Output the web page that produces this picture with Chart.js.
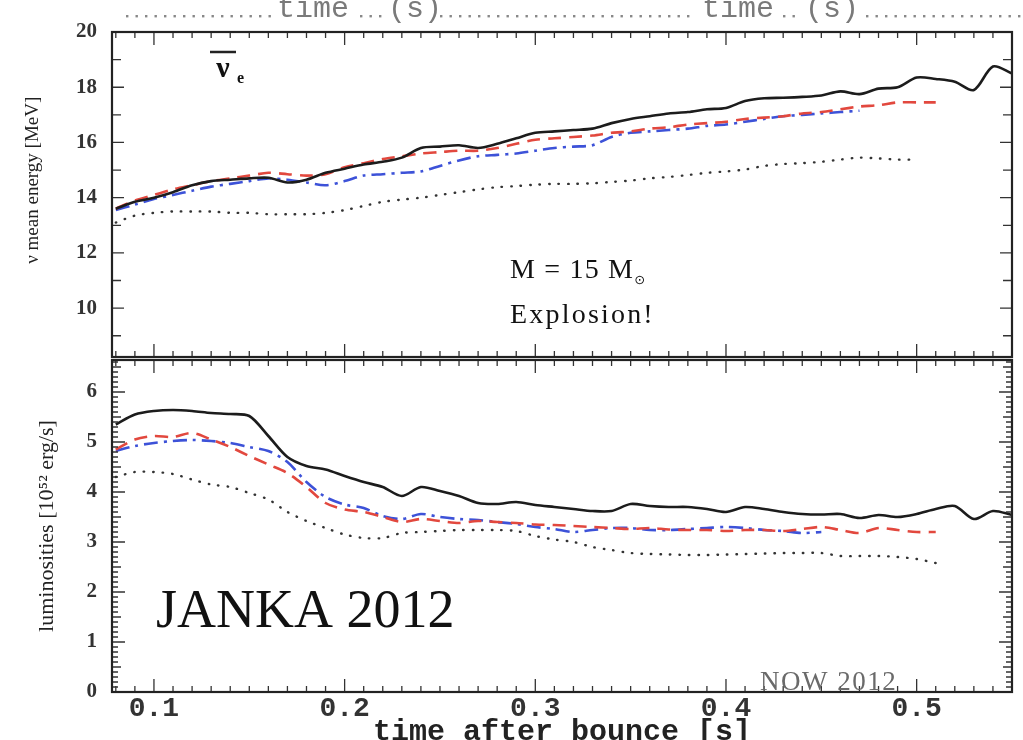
<!DOCTYPE html>
<html>
<head>
<meta charset="utf-8">
<script src="https://cdn.jsdelivr.net/npm/chart.js@4.4.1/dist/chart.umd.min.js"></script>
<style>
  body { margin: 0; background: #fff; }
  #wrap { position: relative; width: 1023px; height: 740px; overflow: hidden; background: #fff; }
  .panel { position: absolute; left: 0; width: 1023px; }
  #top { top: 0; height: 360px; }
  #bottom { top: 355px; height: 395px; }
</style>
</head>
<body>
<div id="wrap">
  <div class="panel" id="top"><canvas id="energyChart"></canvas></div>
  <div class="panel" id="bottom"><canvas id="lumChart"></canvas></div>
</div>
<script>
// time after bounce [s]
const time = [0.08, 0.09, 0.10, 0.11, 0.12, 0.13, 0.14, 0.15, 0.16, 0.17, 0.18, 0.19,
  0.20, 0.21, 0.22, 0.23, 0.24, 0.25, 0.26, 0.27, 0.28, 0.29, 0.30, 0.31, 0.32, 0.33,
  0.34, 0.35, 0.36, 0.37, 0.38, 0.39, 0.40, 0.41, 0.42, 0.43, 0.44, 0.45, 0.46, 0.47,
  0.48, 0.49, 0.50, 0.51, 0.52, 0.53, 0.54, 0.55]

const xTicks = [0.1, 0.2, 0.3, 0.4, 0.5]
const energyTicks = [10, 12, 14, 16, 18, 20]
const lumTicks = [0, 1, 2, 3, 4, 5, 6]

// mean energy [MeV]
const eSolid = [13.6, 13.85, 14.0, 14.2, 14.45, 14.6, 14.65, 14.7, 14.72, 14.55, 14.65, 14.9,
  15.05, 15.2, 15.3, 15.45, 15.8, 15.85, 15.9, 15.8, 15.95, 16.15, 16.35, 16.4, 16.45, 16.5,
  16.7, 16.85, 16.95, 17.05, 17.1, 17.2, 17.25, 17.5, 17.6, 17.62, 17.65, 17.7, 17.85, 17.75,
  17.95, 18.0, 18.35, 18.3, 18.2, 17.9, 18.75, 18.5]
const eDashed = [13.6, 13.9, 14.1, 14.3, 14.45, 14.6, 14.7, 14.8, 14.9, 14.85, 14.8, 14.85,
  15.1, 15.25, 15.4, 15.5, 15.6, 15.65, 15.7, 15.7, 15.8, 15.95, 16.1, 16.15, 16.2, 16.25,
  16.35, 16.4, 16.5, 16.55, 16.65, 16.7, 16.75, 16.85, 16.9, 16.95, 17.05, 17.1, 17.2, 17.3,
  17.35, 17.45, 17.45, 17.45, null, null, null, null]
const eDashDot = [13.55, 13.75, 13.95, 14.1, 14.25, 14.4, 14.5, 14.6, 14.7, 14.65, 14.55, 14.45,
  14.6, 14.8, 14.85, 14.9, 14.95, 15.15, 15.35, 15.5, 15.55, 15.6, 15.7, 15.8, 15.85, 15.9,
  16.2, 16.35, 16.4, 16.45, 16.5, 16.6, 16.65, 16.75, 16.85, 16.95, 17.0, 17.05, 17.1, 17.15,
  null, null, null, null, null, null, null, null]
const eDotted = [13.1, 13.35, 13.45, 13.5, 13.5, 13.5, 13.45, 13.45, 13.4, 13.4, 13.4, 13.45,
  13.55, 13.7, 13.85, 13.93, 14.0, 14.1, 14.2, 14.3, 14.38, 14.42, 14.47, 14.5, 14.5, 14.52,
  14.57, 14.62, 14.7, 14.75, 14.82, 14.9, 14.95, 15.02, 15.15, 15.22, 15.25, 15.3, 15.38, 15.45,
  15.42, 15.38, 15.38, null, null, null, null, null]

// luminosities [10^52 erg/s]
const lSolid = [5.35, 5.55, 5.62, 5.64, 5.62, 5.58, 5.56, 5.52, 5.12, 4.7, 4.52, 4.45,
  4.32, 4.2, 4.1, 3.92, 4.1, 4.02, 3.92, 3.78, 3.76, 3.8, 3.74, 3.7, 3.66, 3.62,
  3.62, 3.76, 3.72, 3.7, 3.7, 3.66, 3.6, 3.7, 3.66, 3.6, 3.56, 3.55, 3.56, 3.48,
  3.54, 3.5, 3.56, 3.66, 3.72, 3.46, 3.62, 3.54]
const lDashed = [4.85, 5.05, 5.12, 5.1, 5.18, 5.05, 4.9, 4.72, 4.55, 4.38, 4.1, 3.78,
  3.65, 3.6, 3.5, 3.4, 3.46, 3.42, 3.38, 3.42, 3.4, 3.38, 3.35, 3.34, 3.32, 3.3,
  3.28, 3.26, 3.28, 3.25, 3.24, 3.24, 3.22, 3.24, 3.24, 3.22, 3.26, 3.3, 3.24, 3.18,
  3.28, 3.24, 3.2, 3.2, null, null, null, null]
const lDashDot = [4.82, 4.92, 4.98, 5.02, 5.04, 5.02, 4.98, 4.9, 4.82, 4.6, 4.2, 3.9,
  3.75, 3.68, 3.52, 3.46, 3.56, 3.5, 3.46, 3.44, 3.4, 3.36, 3.3, 3.26, 3.2, 3.24,
  3.28, 3.28, 3.24, 3.24, 3.26, 3.28, 3.3, 3.28, 3.24, 3.22, 3.18, 3.2, null, null,
  null, null, null, null, null, null, null, null]
const lDotted = [4.3, 4.4, 4.4, 4.36, 4.25, 4.15, 4.1, 3.98, 3.85, 3.6, 3.42, 3.28,
  3.15, 3.08, 3.08, 3.18, 3.2, 3.22, 3.24, 3.24, 3.24, 3.22, 3.12, 3.05, 3.0, 2.9,
  2.84, 2.78, 2.76, 2.75, 2.74, 2.74, 2.75, 2.76, 2.77, 2.78, 2.78, 2.78, 2.72, 2.72,
  2.72, 2.7, 2.66, 2.58, null, null, null, null]

const styles = {
  solid: { borderColor: '#1c1c1c', borderWidth: 2.6, order: 1 },
  dashed: { borderColor: '#e2483e', borderWidth: 2.6, borderDash: [13, 8], order: 2 },
  dashDot: { borderColor: '#3d52d8', borderWidth: 2.6, borderDash: [14, 6, 3, 6], order: 3 },
  dotted: { borderColor: '#333', borderWidth: 2.4, borderDash: [0.5, 9], borderCapStyle: 'round', order: 4 }
}

function series(values, style) {
  return Object.assign({ data: values, pointRadius: 0, tension: 0.3, fill: false, spanGaps: false }, styles[style])
}

function tickValues(min, max, step) {
  const out = []
  for (let k = Math.ceil(min / step - 1e-6); k * step <= max + 1e-9; k++) out.push(+(k * step).toFixed(4))
  return out
}
const isMultiple = (v, step) => Math.abs(v / step - Math.round(v / step)) < 1e-6

// y axis of fixed width, no extra room for half labels
const fixWidth = s => {
  s.width = 112
  s.paddingTop = 0
  s.paddingBottom = 0
}

// box with inward tick marks, like the original plot frame
const framePlugin = {
  id: 'frame',
  afterDatasetsDraw(chart, args, o) {
    const { ctx, chartArea: a, scales: { x, y } } = chart
    ctx.save()
    ctx.strokeStyle = '#333'
    ctx.lineWidth = 1.3
    ctx.beginPath()
    tickValues(x.min, x.max, 0.01).forEach(v => {
      const px = x.getPixelForValue(v)
      const len = isMultiple(v, 0.1) ? 13 : 6
      ctx.moveTo(px, a.top); ctx.lineTo(px, a.top + len)
      ctx.moveTo(px, a.bottom); ctx.lineTo(px, a.bottom - len)
    })
    tickValues(y.min, y.max, o.yMinor).forEach(v => {
      const py = y.getPixelForValue(v)
      let len = o.minorLen
      if (isMultiple(v, o.yMajor)) len = o.majorLen
      else if (o.yMid && isMultiple(v, o.yMid)) len = o.midLen
      ctx.moveTo(a.left, py); ctx.lineTo(a.left + len, py)
      ctx.moveTo(a.right, py); ctx.lineTo(a.right - len, py)
    })
    ctx.stroke()
    ctx.lineWidth = 2.2
    ctx.strokeStyle = '#222'
    ctx.strokeRect(a.left, a.top, a.right - a.left, a.bottom - a.top)
    ctx.restore()
  }
}

// free text on the canvas
const notesPlugin = {
  id: 'notes',
  afterDraw(chart, args, o) {
    const ctx = chart.ctx
    ctx.save()
    ;(o.items || []).forEach(n => {
      ctx.font = n.font
      ctx.fillStyle = n.color || '#111'
      ctx.textAlign = n.align || 'left'
      ctx.textBaseline = 'alphabetic'
      ctx.letterSpacing = n.spacing || '0px'
      ctx.fillText(n.text, n.x, n.y)
      if (n.sub) {
        const w = ctx.measureText(n.text).width
        ctx.font = n.sub.font
        ctx.letterSpacing = '0px'
        ctx.textAlign = 'left'
        ctx.fillText(n.sub.text, n.x + w + n.sub.dx, n.y + n.sub.dy)
      }
    })
    ;(o.lines || []).forEach(l => {
      ctx.strokeStyle = l.color
      ctx.lineWidth = l.width
      ctx.beginPath()
      ctx.moveTo(l.x1, l.y1); ctx.lineTo(l.x2, l.y2)
      ctx.stroke()
    })
    ;(o.dots || []).forEach(d => {
      ctx.fillStyle = d.color
      for (let px = d.from; px <= d.to; px += d.gap) {
        ctx.fillRect(px, d.y, 2.4, 2.4)
      }
    })
    ctx.restore()
  }
}

Chart.register(framePlugin, notesPlugin)

const tickFontY = { family: 'Liberation Serif', size: 21, weight: 'bold' }
const headFont = '30px Liberation Mono'

new Chart(document.getElementById('energyChart'), {
  type: 'line',
  data: {
    labels: time,
    datasets: [
      series(eSolid, 'solid'),
      series(eDashed, 'dashed'),
      series(eDashDot, 'dashDot'),
      series(eDotted, 'dotted')
    ]
  },
  options: {
    responsive: true,
    maintainAspectRatio: false,
    animation: false,
    devicePixelRatio: 1,
    layout: { padding: { left: 0, right: 11, top: 32, bottom: 3 } },
    scales: {
      x: { type: 'linear', min: 0.078, max: 0.55, display: false },
      y: {
        min: 8.23, max: 20,
        afterBuildTicks: s => { s.ticks = energyTicks.map(v => ({ value: v })) },
        afterFit: fixWidth,
        grid: { display: false, drawTicks: false },
        border: { display: false },
        ticks: { font: tickFontY, color: '#333', padding: 15 },
        title: {
          display: true, text: '      ν mean energy [MeV]', color: '#222',
          font: { family: 'Liberation Serif', size: 19 }, padding: { top: 22 }
        }
      }
    },
    plugins: {
      legend: { display: false },
      tooltip: { enabled: false },
      frame: { yMinor: 1, yMajor: 2, minorLen: 9, majorLen: 12 },
      notes: {
        items: [
          { text: 'time', x: 277, y: 17, font: headFont, color: '#7a7a7a' },
          { text: '(s)', x: 388, y: 17, font: headFont, color: '#7a7a7a' },
          { text: 'time', x: 702, y: 17, font: headFont, color: '#7a7a7a' },
          { text: '(s)', x: 805, y: 17, font: headFont, color: '#7a7a7a' },
          { text: 'ν', x: 223, y: 77, font: 'bold 30px Liberation Serif', align: 'center' },
          { text: 'e', x: 237, y: 83, font: 'bold 16px Liberation Serif' },
          {
            text: 'M = 15 M', x: 510, y: 278, font: '28px Liberation Serif', spacing: '1.2px',
            sub: { text: '⊙', font: '13px DejaVu Sans', dx: 0, dy: 6 }
          },
          { text: 'Explosion!', x: 510, y: 323, font: '28px Liberation Serif', spacing: '2.2px' }
        ],
        lines: [
          { x1: 210, y1: 52, x2: 236, y2: 52, color: '#222', width: 2.5 }
        ],
        dots: [
          { from: 126, to: 272, gap: 9.5, y: 15, color: '#888' },
          { from: 360, to: 384, gap: 9.5, y: 15, color: '#888' },
          { from: 440, to: 696, gap: 9.5, y: 15, color: '#888' },
          { from: 783, to: 800, gap: 9.5, y: 15, color: '#888' },
          { from: 866, to: 1020, gap: 9.5, y: 15, color: '#888' }
        ]
      }
    }
  }
})

new Chart(document.getElementById('lumChart'), {
  type: 'line',
  data: {
    labels: time,
    datasets: [
      series(lSolid, 'solid'),
      series(lDashed, 'dashed'),
      series(lDashDot, 'dashDot'),
      series(lDotted, 'dotted')
    ]
  },
  options: {
    responsive: true,
    maintainAspectRatio: false,
    animation: false,
    devicePixelRatio: 1,
    layout: { padding: { left: 0, right: 11, top: 5, bottom: 0 } },
    scales: {
      x: {
        type: 'linear', min: 0.078, max: 0.55,
        afterBuildTicks: s => { s.ticks = xTicks.map(v => ({ value: v })) },
        afterFit: s => { s.height = 58 },
        grid: { display: false, drawTicks: false },
        border: { display: false },
        ticks: {
          font: { family: 'Liberation Mono', size: 28, weight: 'bold' }, color: '#333', padding: 0,
          maxRotation: 0, callback: v => v.toFixed(1)
        },
        title: {
          display: true, text: 'time after bounce [s]', color: '#222',
          font: { family: 'Liberation Mono', size: 30, weight: 'bold' }, padding: { top: 0, bottom: 0 }
        }
      },
      y: {
        min: 0, max: 6.64,
        afterBuildTicks: s => { s.ticks = lumTicks.map(v => ({ value: v })) },
        afterFit: fixWidth,
        grid: { display: false, drawTicks: false },
        border: { display: false },
        ticks: { font: tickFontY, color: '#333', padding: 15 },
        title: {
          display: true, text: 'luminosities [10⁵² erg/s]', color: '#222',
          font: { family: 'Liberation Serif', size: 22 }, padding: { top: 34 }
        }
      }
    },
    plugins: {
      legend: { display: false },
      tooltip: { enabled: false },
      frame: { yMinor: 0.1, yMid: 0.5, yMajor: 1, minorLen: 6, midLen: 9, majorLen: 13 },
      notes: {
        items: [
          { text: 'JANKA 2012', x: 156, y: 272, font: '54px Liberation Serif', color: '#111' },
          { text: 'NOW 2012', x: 760, y: 335, font: '27px Liberation Serif', color: '#6a6a6a', spacing: '1.5px' }
        ]
      }
    }
  }
})
</script>
</body>
</html>
